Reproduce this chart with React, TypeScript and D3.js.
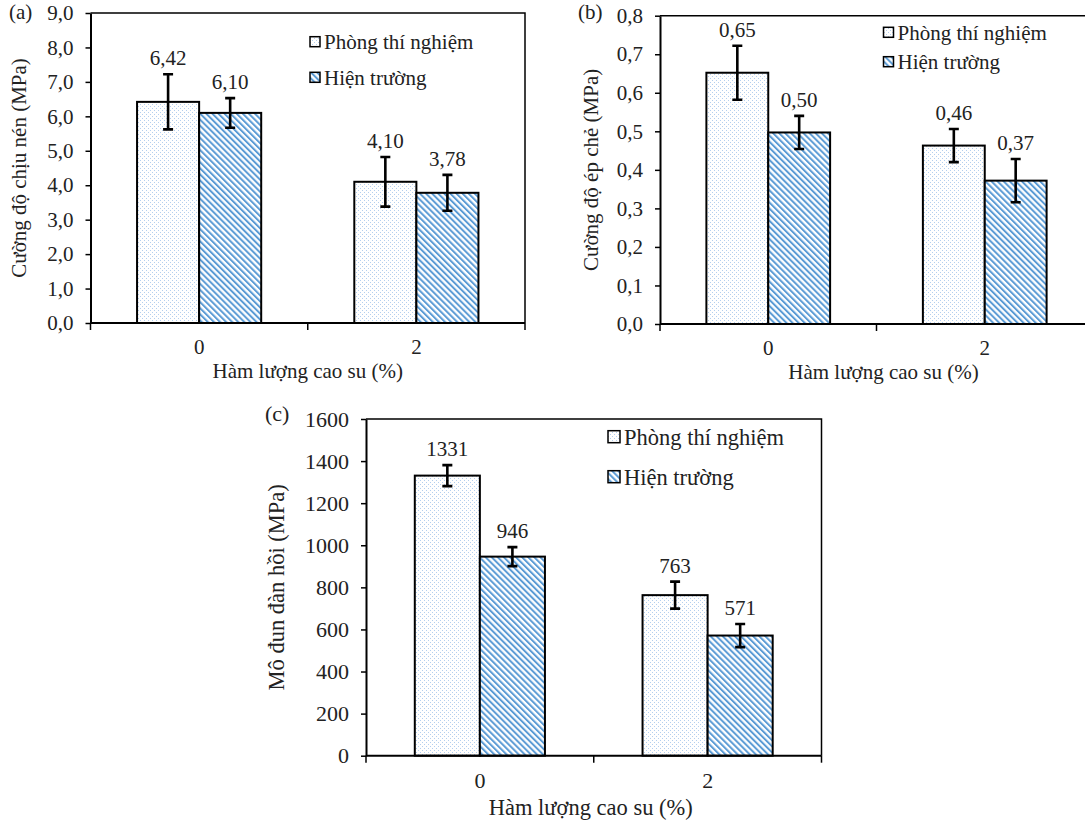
import React, { useEffect, useRef } from "react";
import * as d3 from "d3";

const categories = ["0", "2"];
const seriesNames = ["Phòng thí nghiệm", "Hiện trường"];

// (a) compressive strength, MPa
const compressiveLab = [6.42, 4.1];
const compressiveField = [6.1, 3.78];
const compressiveLabErr = [0.8, 0.72];
const compressiveFieldErr = [0.43, 0.52];
const compressiveTicks = [0, 1, 2, 3, 4, 5, 6, 7, 8, 9];

// (b) indirect tensile strength, MPa
const splitLab = [0.652, 0.463];
const splitField = [0.497, 0.372];
const splitLabErr = [0.07, 0.043];
const splitFieldErr = [0.043, 0.056];
const splitTicks = [0, 0.1, 0.2, 0.3, 0.4, 0.5, 0.6, 0.7, 0.8];

// (c) elastic modulus, MPa
const modulusLab = [1331, 763];
const modulusField = [946, 571];
const modulusLabErr = [50, 64];
const modulusFieldErr = [45, 55];
const modulusTicks = [0, 200, 400, 600, 800, 1000, 1200, 1400, 1600];

const FONT = "Liberation Serif, Times New Roman, DejaVu Serif, serif";
const TEXT = "#222";
const fills = ["url(#dots)", "url(#stripes)"];

type Panel = {
  tag: string;
  box: { left: number; right: number; top: number; bottom: number };
  ticks: number[];
  tickFmt: (v: number) => string;
  valFmt: (v: number) => string;
  values: number[][];
  errors: number[][];
  yTitle: string;
  yTitleX: number;
  xTitleY: number;
  xTitleDx: number;
  catY: number;
  tagX: number;
  tagY: number;
  legendX: number;
  legendY: number[];
  fs: number;
  tickFs: number;
  box10: number;
};

const comma = (digits: number) => (v: number) => d3.format(`.${digits}f`)(v).replace(".", ",");

const panels: Panel[] = [
  {
    tag: "(a)",
    box: { left: 90.5, right: 525, top: 13, bottom: 323 },
    ticks: compressiveTicks,
    tickFmt: comma(1),
    valFmt: comma(2),
    values: [compressiveLab, compressiveField],
    errors: [compressiveLabErr, compressiveFieldErr],
    yTitle: "Cường độ chịu nén (MPa)",
    yTitleX: 19,
    xTitleY: 378,
    xTitleDx: 0,
    catY: 354,
    tagX: 9,
    tagY: 19,
    legendX: 310,
    legendY: [41.7, 77.3],
    fs: 21,
    tickFs: 21,
    box10: 10,
  },
  {
    tag: "(b)",
    box: { left: 660, right: 1093, top: 15.7, bottom: 324 },
    ticks: splitTicks,
    tickFmt: comma(1),
    valFmt: comma(2),
    values: [splitLab, splitField],
    errors: [splitLabErr, splitFieldErr],
    yTitle: "Cường độ ép chẻ (MPa)",
    yTitleX: 590.5,
    xTitleY: 379,
    xTitleDx: 7,
    catY: 355,
    tagX: 578,
    tagY: 19,
    legendX: 883.5,
    legendY: [32.3, 61.7],
    fs: 21,
    tickFs: 21,
    box10: 10,
  },
  {
    tag: "(c)",
    box: { left: 366, right: 821.5, top: 419, bottom: 755.7 },
    ticks: modulusTicks,
    tickFmt: d3.format("d"),
    valFmt: d3.format("d"),
    values: [modulusLab, modulusField],
    errors: [modulusLabErr, modulusFieldErr],
    yTitle: "Mô đun đàn hồi (MPa)",
    yTitleX: 276,
    xTitleY: 815,
    xTitleDx: -3,
    catY: 788,
    tagX: 265,
    tagY: 421,
    legendX: 608,
    legendY: [436.7, 476.7],
    fs: 22.5,
    tickFs: 22,
    box10: 12,
  },
];

const BarPanel = ({ p }: { p: Panel }) => {
  const ref = useRef<SVGGElement>(null);

  useEffect(() => {
    const g = d3.select(ref.current);
    g.selectAll("*").remove();
    const { left, right, top, bottom } = p.box;

    const x0 = d3.scaleBand().domain(categories).range([left, right]);
    const x1 = d3
      .scaleBand()
      .domain(seriesNames)
      .range([0, x0.bandwidth()])
      .paddingOuter(0.75);
    const y = d3
      .scaleLinear()
      .domain([0, p.ticks[p.ticks.length - 1]])
      .range([bottom, top]);

    // frame (top + right)
    g.append("path")
      .attr("d", `M${left},${top}H${right}V${bottom}`)
      .attr("fill", "none")
      .attr("stroke", "#000")
      .attr("stroke-width", 1.5);

    // Y axis
    const yAxis = g
      .append("g")
      .attr("transform", `translate(${left},0)`)
      .call(
        d3
          .axisLeft(y)
          .tickValues(p.ticks)
          .tickSize(5)
          .tickSizeOuter(0)
          .tickPadding(12)
          .tickFormat((d) => p.tickFmt(+d))
      );
    yAxis.attr("font-family", null).style("font-family", FONT);
    yAxis.select(".domain").attr("stroke-width", 2).attr("stroke", "#000");
    yAxis.selectAll(".tick line").attr("stroke", "#000").attr("stroke-width", 1.5);
    yAxis
      .selectAll("text")
      .style("font-family", FONT)
      .attr("font-size", p.tickFs)
      .attr("fill", TEXT);

    // bars
    seriesNames.forEach((s, si) => {
      g.selectAll(null)
        .data(categories)
        .enter()
        .append("rect")
        .attr("x", (c) => (x0(c) as number) + (x1(s) as number))
        .attr("y", (c, ci) => y(p.values[si][ci]))
        .attr("width", x1.bandwidth())
        .attr("height", (c, ci) => bottom - y(p.values[si][ci]))
        .attr("fill", fills[si])
        .attr("stroke", "#000")
        .attr("stroke-width", 2);
    });

    // X axis
    g.append("line")
      .attr("x1", left)
      .attr("x2", right)
      .attr("y1", bottom)
      .attr("y2", bottom)
      .attr("stroke", "#000")
      .attr("stroke-width", 2);
    const bounds = [left, ...categories.map((c) => (x0(c) as number) + x0.bandwidth())];
    g.selectAll(null)
      .data(bounds)
      .enter()
      .append("line")
      .attr("x1", (d) => d)
      .attr("x2", (d) => d)
      .attr("y1", bottom)
      .attr("y2", bottom + 7)
      .attr("stroke", "#000")
      .attr("stroke-width", 1.5);
    g.selectAll(null)
      .data(categories)
      .enter()
      .append("text")
      .attr("x", (c) => (x0(c) as number) + x0.bandwidth() / 2)
      .attr("y", p.catY)
      .attr("text-anchor", "middle")
      .style("font-family", FONT)
      .attr("font-size", p.tickFs)
      .attr("fill", TEXT)
      .text((c) => c);

    // error bars + value labels
    seriesNames.forEach((s, si) => {
      categories.forEach((c, ci) => {
        const cx = (x0(c) as number) + (x1(s) as number) + x1.bandwidth() / 2;
        const v = p.values[si][ci];
        const e = p.errors[si][ci];
        const yHi = y(v + e);
        const yLo = y(v - e);
        g.append("path")
          .attr("d", `M${cx},${yLo}V${yHi}M${cx - 5},${yHi}H${cx + 5}M${cx - 5},${yLo}H${cx + 5}`)
          .attr("fill", "none")
          .attr("stroke", "#000")
          .attr("stroke-width", 2.6);
        g.append("text")
          .attr("x", cx)
          .attr("y", yHi - 9)
          .attr("text-anchor", "middle")
          .style("font-family", FONT)
          .attr("font-size", 21)
          .attr("fill", TEXT)
          .text(p.valFmt(v));
      });
    });

    // axis titles
    g.append("text")
      .attr("x", (left + right) / 2 + p.xTitleDx)
      .attr("y", p.xTitleY)
      .attr("text-anchor", "middle")
      .style("font-family", FONT)
      .attr("font-size", p.fs)
      .attr("fill", TEXT)
      .text("Hàm lượng cao su (%)");
    g.append("text")
      .attr("transform", `translate(${p.yTitleX},${(top + bottom) / 2}) rotate(-90)`)
      .attr("dy", "0.35em")
      .attr("text-anchor", "middle")
      .style("font-family", FONT)
      .attr("font-size", p.fs)
      .attr("fill", TEXT)
      .text(p.yTitle);

    // panel tag
    g.append("text")
      .attr("x", p.tagX)
      .attr("y", p.tagY)
      .style("font-family", FONT)
      .attr("font-size", p.tickFs)
      .attr("fill", TEXT)
      .text(p.tag);

    // legend
    seriesNames.forEach((s, si) => {
      const ly = p.legendY[si];
      g.append("rect")
        .attr("x", p.legendX)
        .attr("y", ly - p.box10 / 2)
        .attr("width", p.box10)
        .attr("height", p.box10)
        .attr("fill", fills[si])
        .attr("stroke", "#000")
        .attr("stroke-width", 1.5);
      g.append("text")
        .attr("x", p.legendX + p.box10 + 4)
        .attr("y", ly)
        .attr("dy", "0.35em")
        .style("font-family", FONT)
        .attr("font-size", p.fs)
        .attr("fill", TEXT)
        .text(s);
    });
  }, [p]);

  return <g ref={ref}></g>;
};

export default function App() {
  return (
    <svg
      width={1085}
      height={822}
      style={{ position: "absolute", left: 0, top: 0, background: "#fff", fontFamily: FONT }}
    >
      <defs>
        <pattern id="dots" width="4" height="4" patternUnits="userSpaceOnUse">
          <rect width="4" height="4" fill="#fff" />
          <rect x="0" y="0" width="1" height="1" fill="#b4cfee" />
          <rect x="2" y="2" width="1" height="1" fill="#b4cfee" />
        </pattern>
        <pattern
          id="stripes"
          width="4.3"
          height="4.3"
          patternUnits="userSpaceOnUse"
          patternTransform="rotate(-45)"
        >
          <rect width="4.3" height="4.3" fill="#fff" />
          <rect width="2" height="4.3" fill="#5b9bd5" />
        </pattern>
      </defs>
      {panels.map((p) => (
        <BarPanel key={p.tag} p={p} />
      ))}
    </svg>
  );
}
